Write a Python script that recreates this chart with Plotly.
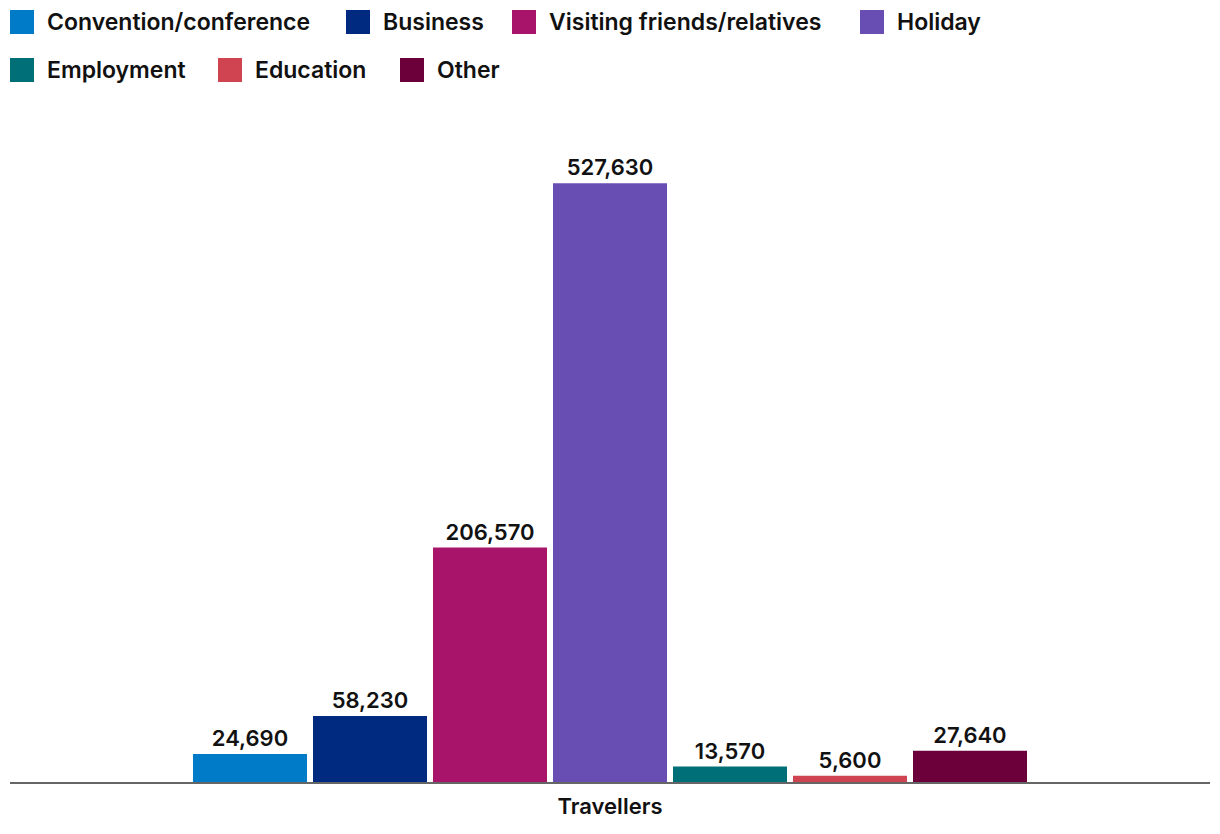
import plotly.graph_objects as go

categories = ["Travellers"]
purposes = ["Convention/conference", "Business", "Visiting friends/relatives", "Holiday",
            "Employment", "Education", "Other"]
values = [24690, 58230, 206570, 527630, 13570, 5600, 27640]
colors = ["#007BC7", "#002A7F", "#A8146A", "#684DB3", "#006F77", "#D04452", "#6B003A"]

# legend layout (pixel positions of swatches, two rows)
legend_x = [10, 346, 512, 860, 10, 218, 400]
legend_y = [22, 22, 22, 22, 70, 70, 70]

FONT = "Inter"
FS = 22
W, H = 1220, 834
fig = go.Figure()
for name, val, col in zip(purposes, values, colors):
    fig.add_trace(go.Bar(
        x=categories, y=[val], name=name, marker=dict(color=col, line=dict(width=0)),
        text=[f"{val:,}"], textposition="outside", cliponaxis=False,
        textfont=dict(family=FONT, size=FS, color="#111111", weight=600),
        showlegend=False,
    ))

shapes = []
annotations = []
for name, col, lx, ly in zip(purposes, colors, legend_x, legend_y):
    shapes.append(dict(type="rect", xref="paper", yref="paper",
                       x0=(lx - 10) / 1200, x1=(lx + 14) / 1200,
                       y0=(834 - 52 - (ly + 12)) / 681, y1=(834 - 52 - (ly - 12)) / 681,
                       fillcolor=col, line=dict(width=0)))
    annotations.append(dict(xref="paper", yref="paper", x=(lx + 25) / 1200,
                            y=(834 - 52 - ly) / 681, xanchor="left", yanchor="middle",
                            text=name, showarrow=False,
                            font=dict(family=FONT, size=23, color="#111111", weight=600)))

fig.update_layout(
    width=W, height=H,
    margin=dict(l=10, r=10, t=101, b=52),
    paper_bgcolor="white", plot_bgcolor="white",
    barmode="group", bargap=0.3, bargroupgap=0.05,
    showlegend=False,
    xaxis=dict(showline=True, linecolor="#666666", linewidth=2, showgrid=False,
               ticks="", ticklabelstandoff=4,
               tickfont=dict(family=FONT, size=FS, color="#111111", weight=600)),
    yaxis=dict(range=[0, 600000], visible=False, showgrid=False, zeroline=False),
    shapes=shapes, annotations=annotations,
)
fig.write_html("out.html")
